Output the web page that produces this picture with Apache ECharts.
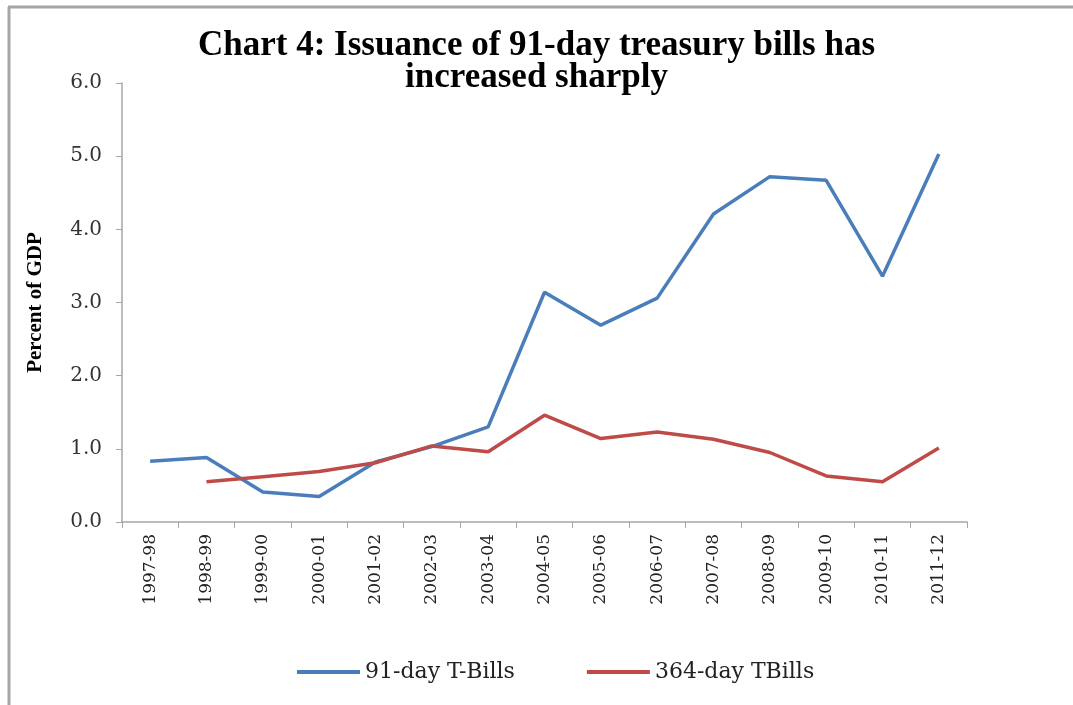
<!DOCTYPE html>
<html>
<head>
<meta charset="utf-8">
<script src="https://cdn.jsdelivr.net/npm/echarts@6/dist/echarts.min.js"></script>
<style>html,body{margin:0;padding:0;background:#fff}#c{width:1073px;height:705px}</style>
</head>
<body>
<div id="c"></div>
<script>
const categories = ['1997-98','1998-99','1999-00','2000-01','2001-02','2002-03','2003-04','2004-05','2005-06','2006-07','2007-08','2008-09','2009-10','2010-11','2011-12'];
const bills91 = [0.83, 0.88, 0.41, 0.35, 0.82, 1.03, 1.30, 3.14, 2.69, 3.06, 4.21, 4.72, 4.67, 3.36, 5.03];
const bills364 = [null, 0.55, 0.62, 0.69, 0.81, 1.04, 0.96, 1.46, 1.14, 1.23, 1.13, 0.95, 0.63, 0.55, 1.01];
const yTicks = ['0.0','1.0','2.0','3.0','4.0','5.0','6.0'];

const serif = '"Liberation Serif", "DejaVu Serif", serif';
const wideSerif = '"DejaVu Serif", "Liberation Serif", serif';
const chart = echarts.init(document.getElementById('c'), null, {renderer: 'canvas'});
chart.setOption({
  animation: false,
  backgroundColor: '#fff',
  title: {
    text: 'Chart 4: Issuance of 91-day treasury bills has\nincreased sharply',
    left: 'center', top: 25,
    textStyle: {fontFamily: serif, fontWeight: 'bold', fontSize: 35, lineHeight: 32, color: '#000'}
  },
  graphic: [
    {type: 'line', shape: {x1: 8, y1: 7, x2: 1073, y2: 7}, style: {stroke: '#a6a6a6', lineWidth: 3}},
    {type: 'line', shape: {x1: 9, y1: 7, x2: 9, y2: 705}, style: {stroke: '#a6a6a6', lineWidth: 3}}
  ],
  legend: {
    bottom: 17, left: 292, itemGap: 72, itemWidth: 63, itemHeight: 4,
    icon: 'rect',
    textStyle: {fontFamily: wideSerif, fontSize: 22, color: '#222'},
    data: ['91-day T-Bills', '364-day TBills']
  },
  grid: {left: 122, right: 106, top: 83, bottom: 183, containLabel: false},
  xAxis: {
    type: 'category', data: categories, boundaryGap: true,
    axisLine: {lineStyle: {color: '#a6a6a6', width: 1.5}},
    axisTick: {show: true, length: 6, lineStyle: {color: '#a6a6a6'}},
    axisLabel: {rotate: 90, fontFamily: wideSerif, fontSize: 17, color: '#222', margin: 12, interval: 0}
  },
  yAxis: {
    type: 'value', min: 0, max: 6, interval: 1,
    name: 'Percent of GDP', nameLocation: 'middle', nameGap: 76, nameRotate: 90,
    nameTextStyle: {fontFamily: serif, fontWeight: 'bold', fontSize: 21, color: '#000'},
    axisLine: {show: true, lineStyle: {color: '#a6a6a6', width: 1.5}},
    axisTick: {show: true, length: 6, inside: false, lineStyle: {color: '#a6a6a6'}},
    splitLine: {show: false},
    axisLabel: {fontFamily: wideSerif, fontSize: 20, color: '#333', margin: 20,
      formatter: (v) => yTicks[Math.round(v)]}
  },
  series: [
    {name: '91-day T-Bills', type: 'line', data: bills91, symbol: 'none',
      lineStyle: {color: '#4a7ebb', width: 3.5}, itemStyle: {color: '#4a7ebb'}},
    {name: '364-day TBills', type: 'line', data: bills364, symbol: 'none',
      lineStyle: {color: '#be4b48', width: 3.5}, itemStyle: {color: '#be4b48'}}
  ]
});
</script>
</body>
</html>
